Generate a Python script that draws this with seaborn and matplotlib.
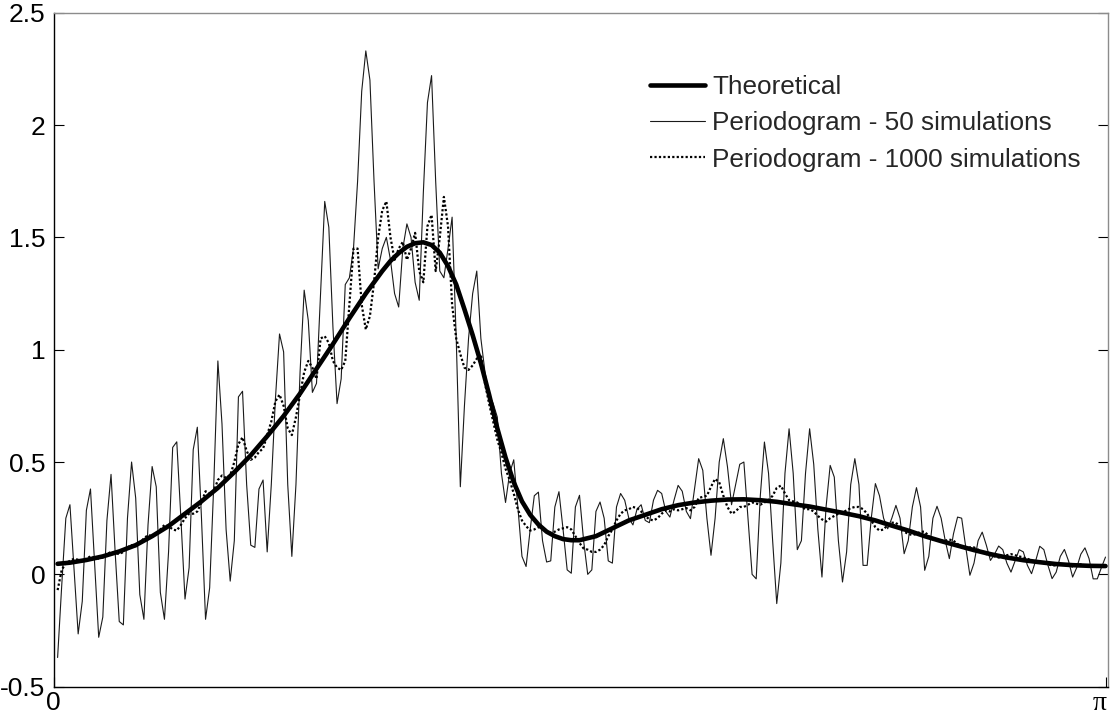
import numpy as np
import pandas as pd
import matplotlib
matplotlib.use("Agg")
import matplotlib.pyplot as plt
import matplotlib.transforms as mtransforms
import seaborn as sns

# ---------------- data ----------------
N_FREQ = 256
sim_index = np.arange(1, N_FREQ + 1)
omega_sim = sim_index * np.pi / N_FREQ

periodogram_50 = [
    -0.37, -0.05, 0.25, 0.31, 0.02, -0.265, -0.12, 0.285, 0.38, 0.05,
    -0.28, -0.19, 0.24, 0.445, 0.10, -0.21, -0.225, 0.25, 0.50, 0.34,
    -0.09, -0.20, 0.22, 0.48, 0.39, -0.08, -0.20, 0.10, 0.565, 0.59,
    0.25, -0.11, 0.03, 0.555, 0.655, 0.255, -0.20, -0.06, 0.40, 0.95,
    0.67, 0.20, -0.03, 0.15, 0.79, 0.815, 0.40, 0.13, 0.12, 0.38,
    0.42, 0.10, 0.40, 0.78, 1.07, 0.99, 0.40, 0.08, 0.40, 0.90,
    1.265, 1.13, 0.81, 0.85, 1.25, 1.66, 1.545, 1.10, 0.76, 0.87,
    1.29, 1.32, 1.45, 1.75, 2.15, 2.33, 2.20, 1.75, 1.36, 1.45,
    1.50, 1.40, 1.25, 1.19, 1.45, 1.56, 1.50, 1.30, 1.22, 1.70,
    2.10, 2.22, 1.75, 1.35, 1.32, 1.45, 1.59, 1.05, 0.39, 0.75,
    1.05, 1.25, 1.35, 1.05, 0.90, 0.80, 0.76, 0.70, 0.45, 0.32,
    0.45, 0.51, 0.30, 0.08, 0.035, 0.20, 0.35, 0.366, 0.15, 0.055,
    0.06, 0.30, 0.368, 0.20, 0.02, 0.005, 0.30, 0.352, 0.15, 0.0,
    0.02, 0.28, 0.322, 0.25, 0.06, 0.05, 0.30, 0.36, 0.33, 0.25,
    0.22, 0.29, 0.31, 0.24, 0.23, 0.33, 0.374, 0.36, 0.28, 0.255,
    0.33, 0.396, 0.37, 0.28, 0.248, 0.38, 0.515, 0.463, 0.25, 0.085,
    0.25, 0.50, 0.604, 0.48, 0.31, 0.40, 0.49, 0.50, 0.25, 0.0,
    -0.02, 0.35, 0.589, 0.45, 0.15, -0.13, 0.05, 0.45, 0.648, 0.45,
    0.11, 0.15, 0.45, 0.648, 0.49, 0.20, -0.012, 0.30, 0.485, 0.433,
    0.15, -0.034, 0.10, 0.40, 0.515, 0.40, 0.04, 0.04, 0.25, 0.404,
    0.35, 0.25, 0.203, 0.25, 0.307, 0.25, 0.092, 0.15, 0.30, 0.386,
    0.30, 0.018, 0.08, 0.25, 0.303, 0.25, 0.15, 0.07, 0.18, 0.255,
    0.25, 0.12, -0.004, 0.05, 0.15, 0.188, 0.13, 0.062, 0.09, 0.126,
    0.11, 0.05, 0.01, 0.06, 0.11, 0.10, 0.04, 0.003, 0.06, 0.125,
    0.11, 0.04, -0.019, 0.01, 0.08, 0.111, 0.06, -0.012, 0.03, 0.09,
    0.118, 0.07, -0.02, -0.02, 0.03, 0.077,
]

periodogram_1000 = [
    -0.07, 0.02, 0.05, 0.06, 0.07, 0.065, 0.06, 0.07, 0.08, 0.075,
    0.07, 0.075, 0.09, 0.10, 0.095, 0.09, 0.10, 0.12, 0.13, 0.125,
    0.14, 0.16, 0.175, 0.17, 0.18, 0.20, 0.22, 0.215, 0.20, 0.195,
    0.22, 0.25, 0.27, 0.27, 0.28, 0.32, 0.37, 0.36, 0.37, 0.42,
    0.44, 0.43, 0.44, 0.50, 0.58, 0.61, 0.55, 0.51, 0.52, 0.545,
    0.56, 0.62, 0.68, 0.77, 0.80, 0.75, 0.65, 0.62, 0.70, 0.80,
    0.90, 0.95, 0.92, 0.87, 1.05, 1.06, 1.03, 0.95, 0.92, 0.91,
    0.95, 1.20, 1.45, 1.45, 1.20, 1.09, 1.15, 1.30, 1.50, 1.62,
    1.66, 1.50, 1.40, 1.45, 1.48, 1.40, 1.45, 1.52, 1.35, 1.30,
    1.55, 1.60, 1.35, 1.50, 1.68, 1.55, 1.20, 1.05, 0.98, 0.92,
    0.91, 0.93, 0.96, 0.98, 0.85, 0.76, 0.68, 0.60, 0.54, 0.47,
    0.42, 0.36, 0.29, 0.24, 0.215, 0.195, 0.20, 0.21, 0.205, 0.19,
    0.185, 0.19, 0.20, 0.205, 0.21, 0.20, 0.17, 0.14, 0.115, 0.11,
    0.10, 0.10, 0.11, 0.13, 0.17, 0.20, 0.24, 0.27, 0.285, 0.29,
    0.30, 0.295, 0.28, 0.26, 0.245, 0.24, 0.25, 0.27, 0.285, 0.28,
    0.29, 0.285, 0.29, 0.295, 0.285, 0.30, 0.34, 0.345, 0.35, 0.39,
    0.425, 0.41, 0.35, 0.30, 0.27, 0.28, 0.30, 0.30, 0.31, 0.32,
    0.315, 0.31, 0.32, 0.33, 0.35, 0.385, 0.395, 0.36, 0.33, 0.325,
    0.32, 0.30, 0.29, 0.29, 0.28, 0.26, 0.245, 0.235, 0.25, 0.26,
    0.27, 0.275, 0.285, 0.295, 0.30, 0.30, 0.29, 0.27, 0.24, 0.21,
    0.195, 0.20, 0.22, 0.23, 0.23, 0.21, 0.19, 0.18, 0.175, 0.18,
    0.19, 0.19, 0.17, 0.155, 0.15, 0.15, 0.15, 0.155, 0.15, 0.135,
    0.12, 0.115, 0.12, 0.12, 0.11, 0.10, 0.09, 0.085, 0.08, 0.075,
    0.08, 0.085, 0.09, 0.085, 0.08, 0.075, 0.07, 0.06, 0.055, 0.055,
    0.05, 0.045, 0.04, 0.04, 0.045, 0.045, 0.04, 0.035, 0.04, 0.045,
    0.04, 0.035, 0.035, 0.04, 0.04, 0.04,
]

theo_index = [
    1, 4, 8, 12, 16, 20, 24, 28, 32, 36, 40, 44, 48, 52, 56, 60, 64, 68, 72,
    76, 78, 80, 82, 84, 86, 88, 90, 92, 94, 96, 98, 100, 102, 104, 106, 108,
    110, 112, 114, 116, 118, 120, 122, 124, 126, 128,
    132, 136, 140, 144, 148, 152, 156, 160, 164, 168, 172, 176, 180, 184,
    188, 192, 196, 200, 204, 208, 212, 216, 220, 224, 228, 232, 236, 240,
    244, 248, 252, 256,
]
theoretical = [
    0.047, 0.052, 0.064, 0.080, 0.102, 0.130, 0.170, 0.215, 0.270, 0.325,
    0.385, 0.455, 0.530, 0.615, 0.705, 0.805, 0.915, 1.025, 1.140,
    1.250, 1.300, 1.350, 1.395, 1.430, 1.458, 1.474, 1.478, 1.466, 1.432,
    1.372, 1.290, 1.180, 1.065, 0.940, 0.800, 0.650,
    0.520, 0.410, 0.325, 0.265, 0.222, 0.190, 0.170, 0.157, 0.152, 0.152,
    0.170, 0.205, 0.240, 0.265, 0.290, 0.308, 0.320, 0.328, 0.333, 0.334,
    0.330, 0.323, 0.312, 0.302, 0.288, 0.274, 0.259, 0.240, 0.217, 0.195,
    0.170, 0.148, 0.128, 0.108, 0.090, 0.075, 0.063, 0.054, 0.046, 0.041,
    0.038, 0.037,
]
omega_theo = np.array(theo_index) * np.pi / N_FREQ

y_ticks = [-0.5, 0, 0.5, 1, 1.5, 2, 2.5]
y_tick_labels = ["-0.5", "0", "0.5", "1", "1.5", "2", "2.5"]
x_ticks = [0, np.pi]
x_tick_labels = ["0", "π"]

label_theo = "Theoretical"
label_50 = "Periodogram - 50 simulations"
label_1000 = "Periodogram - 1000 simulations"

# ---------------- figure ----------------
sns.set_theme(style="white")
plt.rcParams["font.family"] = ["Liberation Sans", "DejaVu Sans"]

W, H = 1110, 714
fig = plt.figure(figsize=(W / 100, H / 100), dpi=100)
fig.patch.set_facecolor("white")
ax_left, ax_right, ax_top, ax_bottom = 53.5, 1108.0, 12.7, 686.7
ax = fig.add_axes([ax_left / W, (H - ax_bottom) / H,
                   (ax_right - ax_left) / W, (ax_bottom - ax_top) / H])
ax.set_facecolor("white")

df50 = pd.DataFrame({"omega": omega_sim, "value": periodogram_50})
df1000 = pd.DataFrame({"omega": omega_sim, "value": periodogram_1000})
dftheo = pd.DataFrame({"omega": omega_theo, "value": theoretical})

sns.lineplot(data=df50, x="omega", y="value", ax=ax, estimator=None, sort=False,
             color="#1a1a1a", linewidth=0.8, label=label_50, zorder=2)
sns.lineplot(data=df1000, x="omega", y="value", ax=ax, estimator=None, sort=False,
             color="black", linewidth=1.6, linestyle=(0, (1, 1)), label=label_1000, zorder=3)
sns.lineplot(data=dftheo, x="omega", y="value", ax=ax, estimator=None, sort=False,
             color="black", linewidth=3.3, label=label_theo, zorder=4)

x_max = np.pi * (ax_right - ax_left) / (1105.5 - ax_left)
ax.set_xlim(0, x_max)
ax.set_ylim(-0.5, 2.5)
ax.set_xlabel("")
ax.set_ylabel("")

ax.set_xticks(x_ticks)
ax.set_xticklabels(x_tick_labels)
ax.set_yticks(y_ticks)
ax.set_yticklabels(y_tick_labels)
ax.tick_params(axis="both", direction="in", length=7.5, width=0.8, labelsize=19,
               colors="black", labelcolor="black")
ax.tick_params(axis="y", left=True, right=True, pad=6)
ax.tick_params(axis="x", bottom=True, top=False, pad=3)
for t in ax.yaxis.get_major_ticks():
    t.tick2line.set_color("#8c8c8c")

# the pi label sits slightly left of its tick, inside the figure, serif glyph
xlabels = ax.get_xticklabels()
pi_label = xlabels[1]
pi_label.set_fontfamily(["Liberation Serif", "DejaVu Serif"])
pi_label.set_fontsize(20)
pi_label.set_transform(pi_label.get_transform() +
                       mtransforms.ScaledTranslation(-6 / 100, 0, fig.dpi_scale_trans))

for side in ["left", "bottom"]:
    ax.spines[side].set_color("black")
    ax.spines[side].set_linewidth(1.0)
for side in ["top", "right"]:
    ax.spines[side].set_color("#8c8c8c")
    ax.spines[side].set_linewidth(1.0)

handles, labels = ax.get_legend_handles_labels()
order = [labels.index(label_theo), labels.index(label_50), labels.index(label_1000)]
leg = ax.legend([handles[i] for i in order], [labels[i] for i in order],
                loc="upper left", bbox_to_anchor=(650 / W, 1 - 75 / H),
                bbox_transform=fig.transFigure, frameon=False, fontsize=18.8,
                borderpad=0, borderaxespad=0, handlelength=2.1,
                handletextpad=0.27, labelspacing=0.47)

fig.savefig("out.png", dpi=100, facecolor="white")
